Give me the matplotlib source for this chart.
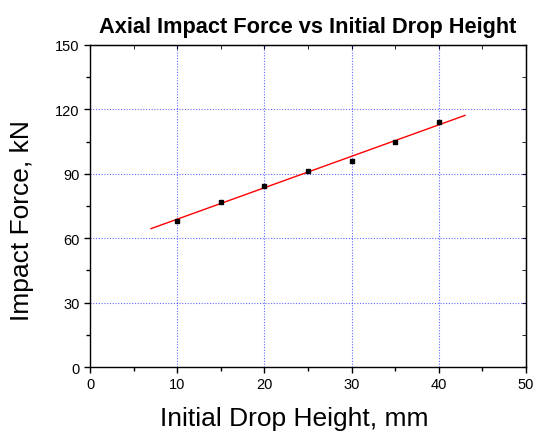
import numpy as np
import matplotlib.pyplot as plt
from matplotlib.ticker import MultipleLocator

plt.rcParams['font.family'] = ['Liberation Sans', 'DejaVu Sans']

height = [10, 15, 20, 25, 30, 35, 40]
force = [68, 77, 84.5, 91.5, 96, 104.8, 114]
fit_range = [7, 43]

fig = plt.figure(figsize=(5.38, 4.35), dpi=100)
ax = fig.add_axes([0.1673, 0.154, 0.8104, 0.7403])

# linear fit through the points
slope, icpt = np.polyfit(height, force, 1)
xf = np.array(fit_range)
ax.plot(xf, slope * xf + icpt, color='red', linewidth=1, zorder=3)
ax.plot(height, force, 's', color='black', markersize=3.5, zorder=4)

ax.set_xlim(0, 50)
ax.set_ylim(0, 150)
ax.xaxis.set_major_locator(MultipleLocator(10))
ax.xaxis.set_minor_locator(MultipleLocator(5))
ax.yaxis.set_major_locator(MultipleLocator(30))
ax.yaxis.set_minor_locator(MultipleLocator(15))
ax.grid(True, which='major', color='blue', linestyle=(0, (1, 1.5)), linewidth=0.8, alpha=0.6)

ax.tick_params(which='both', direction='out', labelsize=10.5, width=1)
ax.tick_params(which='major', length=4)
ax.tick_params(which='minor', length=3)
# mirrored inward ticks on top/right
ax2 = ax.secondary_xaxis('top')
ax2.xaxis.set_major_locator(MultipleLocator(10))
ax2.xaxis.set_minor_locator(MultipleLocator(5))
ax2.tick_params(which='both', direction='in', labeltop=False, length=3)
ax3 = ax.secondary_yaxis('right')
ax3.yaxis.set_major_locator(MultipleLocator(30))
ax3.yaxis.set_minor_locator(MultipleLocator(15))
ax3.tick_params(which='both', direction='in', labelright=False, length=3)

for s in ax.spines.values():
    s.set_linewidth(1)

ax.set_title('Axial Impact Force vs Initial Drop Height', fontsize=15.7, fontweight='bold', pad=9)
ax.set_xlabel('Initial Drop Height, mm', fontsize=19)
ax.set_ylabel('Impact Force, kN', fontsize=19)
ax.xaxis.set_label_coords(0.468, -0.122)
ax.yaxis.set_label_coords(-0.128, 0.4565)

fig.savefig('out.png', dpi=100)
